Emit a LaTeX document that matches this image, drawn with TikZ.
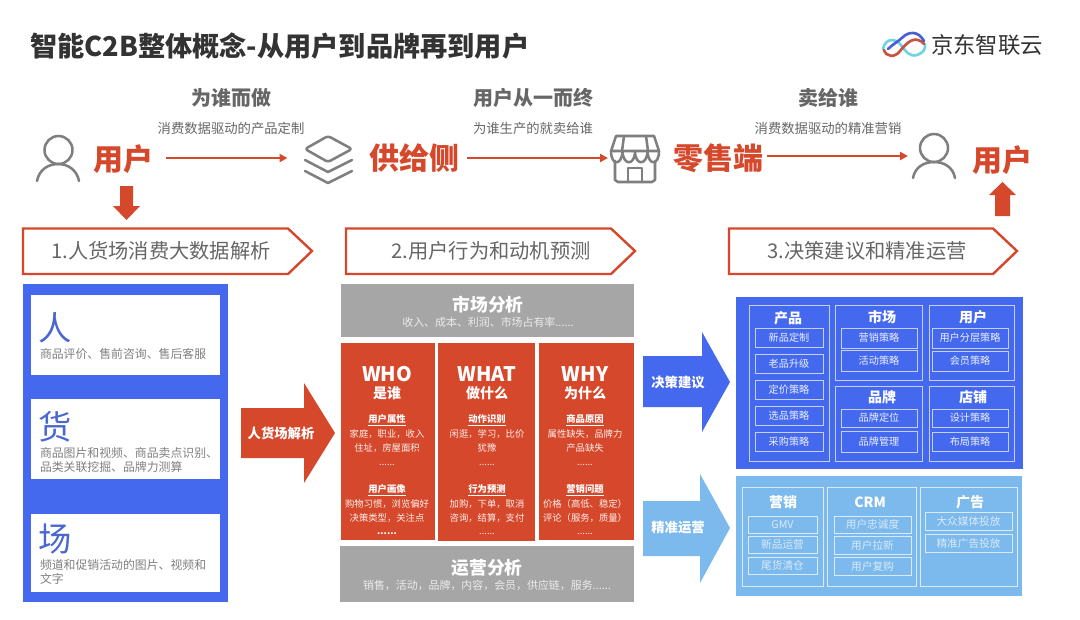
\documentclass[tikz,border=0pt]{standalone}
\usepackage{fontspec}
\setmainfont{Noto Sans CJK SC}
\usetikzlibrary{arrows.meta,calc}
\definecolor{rd}{HTML}{D6482B}
\definecolor{bl}{HTML}{4569EE}
\definecolor{lb}{HTML}{7CB9EC}
\definecolor{gy}{HTML}{A6A6A6}
\definecolor{tg}{HTML}{666666}
\definecolor{ic}{HTML}{7F7F7F}
\definecolor{ln}{HTML}{C4D0F8}
\definecolor{ll}{HTML}{D9EBFA}
\definecolor{lgb}{HTML}{4A5FD0}
\definecolor{lgr}{HTML}{C9533F}
\definecolor{lgc}{HTML}{6FD3E3}
\definecolor{bigblue}{HTML}{4A66CF}
\newcommand{\fpx}[1]{\fontsize{#1}{#1}\selectfont}
\tikzset{
 txt/.style={inner sep=0,outer sep=0,align=center},
 heading/.style={txt,font=\fpx{20.4}\bfseries,text=black!80},
 askt/.style={txt,font=\fpx{15}\bfseries,text=tg},
 subt/.style={txt,font=\fpx{10},text=tg},
 actor/.style={txt,font=\fpx{22.5}\bfseries,text=rd},
 stept/.style={txt,font=\fpx{15.2},text=tg},
 bigc/.style={txt,font=\fpx{25},text=bigblue},
 desc/.style={txt,font=\fontsize{8.9}{10.5}\selectfont,text=black!50,align=left,anchor=west},
 mark1/.style={txt,font=\fpx{10}\bfseries,text=white},
 gth/.style={txt,font=\fpx{13.3}\bfseries,text=white},
 gsb/.style={txt,font=\fpx{8.2},text=white!92!black},
 colh/.style={txt,font=\fpx{15}\bfseries,text=white},
 colc/.style={txt,font=\fpx{10.5}\bfseries,text=white},
 colu/.style={txt,font=\fpx{7}\bfseries,text=white},
 colb/.style={txt,font=\fontsize{7}{10.5}\selectfont,text=white!92!rd},
 gtitle/.style={txt,font=\fpx{10.5}\bfseries,text=white},
 flow/.style={draw=rd,line width=1.6pt,-{Triangle[length=6pt,width=6pt]}},
 ico/.style={draw=ic,line width=1.9pt,line cap=round,line join=round},
 stepbox/.style={draw=rd,line width=1.8pt,fill=white,line join=miter},
 grpb/.style={draw=ln,line width=.6pt,inner sep=0,outer sep=0},
 itemb/.style={draw=ln,line width=.6pt,inner sep=0,outer sep=0,align=center,text=white!90!bl,font=\fpx{7.6}},
 itemc/.style={draw=ll,line width=.6pt,inner sep=0,outer sep=0,align=center,text=ll,font=\fpx{8}},
 rect/.style={inner sep=0,outer sep=0},
 anchorbox/.style={inner sep=0,outer sep=0,minimum width=#1*.75pt,minimum height=30pt},
}
\newcommand{\bx}[7]{%
 \pgfmathsetmacro\cx{(#3+#5)/2}\pgfmathsetmacro\cy{(#4+#6)/2}%
 \pgfmathsetmacro\ww{(#5-#3)*0.75}\pgfmathsetmacro\hh{(#6-#4)*0.75}%
 \node[#1,minimum width=\ww pt,minimum height=\hh pt] (#2) at (\cx,\cy) {#7};}
\begin{document}
\begin{tikzpicture}[x=.75pt,y=-.75pt]
\useasboundingbox (0,0) rectangle (1080,619);
\fill[white] (0,0) rectangle (1080,619);
% title and logo
\node[heading,anchor=west] (title) at (30,46) {智能C2B整体概念-从用户到品牌再到用户};
\draw[line width=2pt,color=lgc,line cap=round] (883,49) .. controls (885,39) and (894,37) .. (901,45) .. controls (906,52) and (910,57) .. (917,55) .. controls (923,53) and (926,49) .. (925,44);
\draw[line width=2pt,color=lgr,line cap=round] (884,50) .. controls (886,57) and (895,58) .. (900,51) .. controls (905,45) and (911,38) .. (918,40) .. controls (921,41) and (923,42) .. (924,44);
\draw[line width=2pt,color=lgb,line cap=round] (888,49) .. controls (893,44) and (899,41) .. (903,37) .. controls (908,32) and (918,30) .. (924,41);
\node[txt,font=\fpx{16.8},text=black!80,anchor=west] (logo) at (931,45) {京东智联云};
% top row
\node[askt] (q1) at (231,98) {为谁而做};
\node[subt] (s1) at (231,128) {消费数据驱动的产品定制};
\node[askt] (q2) at (533,98) {用户从一而终};
\node[subt] (s2) at (533,128) {为谁生产的就卖给谁};
\node[askt] (q3) at (828,98) {卖给谁};
\node[subt] (s3) at (828,128) {消费数据驱动的精准营销};
\node[anchorbox=42] (p1) at (58,159) {};
\draw[ico] (58.5,150) circle (14);
\draw[ico] (37,181) .. controls (39,170) and (48,164) .. (58,164) .. controls (68,164) and (77,170) .. (79,181);
\node[actor] (u1) at (123,159) {用户};
\node[anchorbox=49] (stack) at (328,159) {};
\draw[ico,rounded corners=2pt] (328,136) -- (352,149) -- (328,162) -- (305,149) -- cycle;
\draw[ico] (305,160) -- (328,172) -- (352,160);
\draw[ico] (305,171) -- (328,183) -- (352,171);
\node[actor] (supply) at (414,158) {供给侧};
\node[anchorbox=48] (store) at (635,159) {};
\draw[ico] (616,136) -- (654,136) -- (659,151) -- (611,151) -- cycle;
\draw[ico] (624,136) -- (622,151) (646,136) -- (648,151);
\draw[ico] (611,151) .. controls (611,166) and (622,166) .. (622.5,151) .. controls (623,166) and (635,166) .. (635,151) .. controls (635,166) and (647,166) .. (647.5,151) .. controls (648,166) and (659,166) .. (659,151);
\draw[ico] (615,161) -- (615,180) -- (618,182) -- (652,182) -- (655,180) -- (655,161);
\draw[ico] (628,182) -- (628,168) -- (642,168) -- (642,182);
\node[actor] (retail) at (718,158) {零售端};
\node[anchorbox=42] (p2) at (934,156) {};
\draw[ico] (934,148) circle (14);
\draw[ico] (913,178) .. controls (915,167) and (924,162) .. (934,162) .. controls (944,162) and (953,167) .. (955,178);
\node[actor] (u2) at (1002,160) {用户};
\draw[flow] ($(u1.east)+(13,-1)$) -- ($(stack.west)+(-16,-1)$);
\draw[flow] ($(supply.east)+(8,0)$) -- ($(store.west)+(-3,-1)$);
\draw[flow] ($(retail.east)+(4,-2)$) -- ($(p2.west)+(-5,0)$);
% vertical block arrows
\fill[rd] (120,186) -- (133,186) -- (133,206) -- (140,206) -- (126.5,220) -- (113,206) -- (120,206) -- cycle;
\fill[rd] (995,216) -- (1010,216) -- (1010,195) -- (1016,195) -- (1002.5,182) -- (989,195) -- (995,195) -- cycle;
% step boxes
\draw[stepbox] (23,228.5) -- (288,228.5) -- (312,251) -- (288,274) -- (23,274) -- cycle;
\node[stept] (st1) at (161,251) {1.人货场消费大数据解析};
\draw[stepbox] (346,228.5) -- (611,228.5) -- (635,251) -- (611,274) -- (346,274) -- cycle;
\node[stept] (st2) at (491,251) {2.用户行为和动机预测};
\draw[stepbox] (729,228.5) -- (993,228.5) -- (1017,251) -- (993,274) -- (729,274) -- cycle;
\node[stept] (st3) at (867,251) {3.决策建议和精准运营};
% left panel
\bx{rect,fill=bl}{lp}{23}{284}{228}{602}{}
\bx{rect,fill=white}{c1}{31}{295}{220}{375}{}
\bx{rect,fill=white}{c2}{31}{399}{220}{479}{}
\bx{rect,fill=white}{c3}{31}{514}{220}{592}{}
\node[bigc] (ren) at (55,328) {人};
\node[desc] (d1) at (40,354) {商品评价、售前咨询、售后客服};
\node[bigc] (huo) at (55,427) {货};
\node[desc] (d2) at (40,460) {商品图片和视频、商品卖点识别、\\品类关联挖掘、品牌力测算};
\node[bigc] (chang) at (55,539) {场};
\node[desc] (d3) at (40,572) {频道和促销活动的图片、视频和\\文字};
% red arrow
\fill[rd] (241,408) -- (304,408) -- (304,383) -- (335,433) -- (304,483) -- (304,458) -- (241,458) -- cycle;
\node[mark1] (a1) at (281,433) {人货场解析};
% center grey
\bx{rect,fill=gy}{mk}{341}{284}{634}{337}{}
\node[gth] (mkt) at (488,305) {市场分析};
\node[gsb] (mks) at (488,322) {收入、成本、利润、市场占有率......};
\bx{rect,fill=gy}{op}{340}{546}{634}{602}{}
\node[gth] (opt) at (487,568) {运营分析};
\node[gsb] (ops) at (487,585) {销售，活动，品牌，内容，会员，供应链，服务......};
% red columns
\bx{rect,fill=rd}{c1r}{341}{343}{435}{540}{}
\bx{rect,fill=rd}{c2r}{438}{343}{535}{541}{}
\bx{rect,fill=rd}{c3r}{539}{343}{634}{540}{}
\newcommand{\col}[9]{%
 \node[colh] (#1h) at (#2,374) {#3};
 \node[colc] (#1c) at (#2,393) {#4};
 \node[colu] (#1a) at (#2,420) {\underline{#5}};
 \node[colb] (#1b) at (#2,441) {#6};
 \node[colb] (#1d) at (#2,465) {......};
 \node[colu] (#1e) at (#2,490) {\underline{#7}};
 \node[colb] (#1f) at (#2,511) {#8};
 \node[#9] (#1g) at (#2,534) {......};}
\col{w}{387}{WHO}{是谁}{用户属性}{家庭，职业，收入\\住址，房屋面积}{用户画像}{购物习惯，浏览偏好\\决策类型，关注点}{colu}
\col{x}{487}{WHAT}{做什么}{动作识别}{闲逛，学习，比价\\犹豫}{行为预测}{加购，下单，取消\\咨询，结算，支付}{colb}
\col{y}{585}{WHY}{为什么}{商品原因}{属性缺失，品牌力\\产品缺失}{营销问题}{价格（高低、稳定）\\评论（服务，质量）}{colb}
% right arrows
\fill[bl] (643,356) -- (702,356) -- (702,332) -- (730,382) -- (702,432) -- (702,407) -- (643,407) -- cycle;
\node[mark1] (a2) at (678,382) {决策建议};
\fill[lb] (643,501) -- (700,501) -- (700,474) -- (730,528) -- (700,583) -- (700,556) -- (643,556) -- cycle;
\node[mark1] (a3) at (678,528) {精准运营};
% blue panel
\bx{rect,fill=bl}{bp}{736}{297}{1023}{469}{}
\bx{grpb}{g1}{749}{305}{829}{461}{}
\bx{grpb}{g2}{835}{305}{922}{380}{}
\bx{grpb}{g3}{929}{305}{1014}{380}{}
\bx{grpb}{g4}{835}{386}{922}{461}{}
\bx{grpb}{g5}{929}{386}{1014}{461}{}
\node[gtitle] (g1t) at (788,318) {产品};
\node[gtitle] (g2t) at (882,317) {市场};
\node[gtitle] (g3t) at (973,317) {用户};
\node[gtitle] (g4t) at (882,397) {品牌};
\node[gtitle] (g5t) at (973,397) {店铺};
\bx{itemb}{i1}{755}{328}{823}{347}{新品定制}
\bx{itemb}{i2}{755}{354}{823}{373}{老品升级}
\bx{itemb}{i3}{755}{380}{823}{399}{定价策略}
\bx{itemb}{i4}{755}{406}{823}{425}{选品策略}
\bx{itemb}{i5}{755}{432}{823}{451}{采购策略}
\bx{itemb}{i6}{841}{328}{917}{348}{营销策略}
\bx{itemb}{i7}{841}{350}{917}{371}{活动策略}
\bx{itemb}{i8}{932}{328}{1008}{348}{用户分层策略}
\bx{itemb}{i9}{932}{351}{1008}{371}{会员策略}
\bx{itemb}{i10}{841}{409}{917}{427}{品牌定位}
\bx{itemb}{i11}{841}{431}{917}{452}{品牌管理}
\bx{itemb}{i12}{932}{409}{1008}{427}{设计策略}
\bx{itemb}{i13}{932}{432}{1008}{451}{布局策略}
% light panel
\bx{rect,fill=lb}{lpn}{736}{476}{1022}{596}{}
\bx{grpb,draw=ll}{h1}{742}{487}{823}{586}{}
\bx{grpb,draw=ll}{h2}{827}{487}{916}{586}{}
\bx{grpb,draw=ll}{h3}{920}{487}{1017}{586}{}
\node[gtitle] (h1t) at (783,502) {营销};
\node[gtitle] (h2t) at (870,502) {CRM};
\node[gtitle] (h3t) at (970,502) {广告};
\bx{itemc}{k1}{748}{516}{817}{533}{GMV}
\bx{itemc}{k2}{748}{536}{817}{553}{新品运营}
\bx{itemc}{k3}{748}{557}{817}{574}{尾货清仓}
\bx{itemc}{k4}{834}{516}{911}{533}{用户忠诚度}
\bx{itemc}{k5}{834}{536}{911}{554}{用户拉新}
\bx{itemc}{k6}{834}{557}{911}{575}{用户复购}
\bx{itemc}{k7}{925}{512}{1012}{530}{大众媒体投放}
\bx{itemc}{k8}{925}{534}{1012}{552}{精准广告投放}
\end{tikzpicture}
\end{document}
